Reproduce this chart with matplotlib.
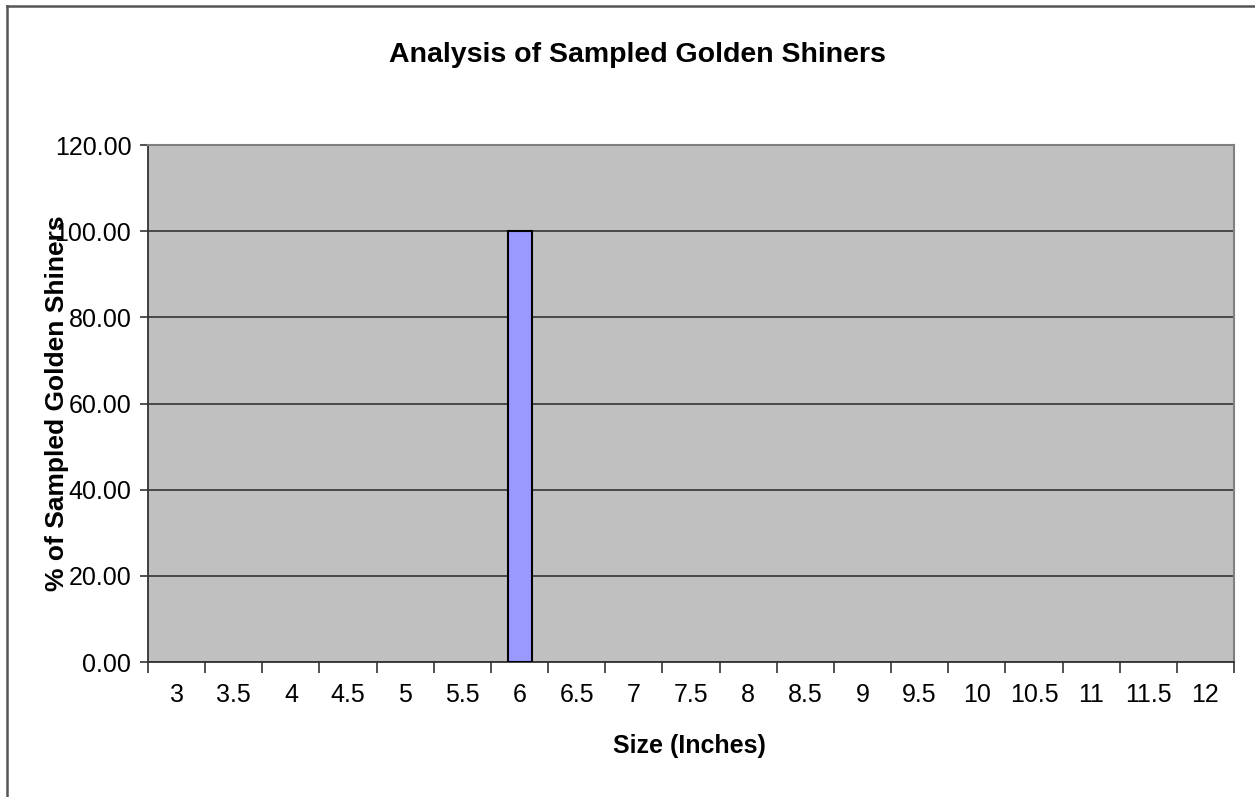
import numpy as np
import matplotlib.pyplot as plt
from matplotlib.lines import Line2D

plt.rcParams['font.family'] = ['Liberation Sans', 'DejaVu Sans']

sizes = ['3', '3.5', '4', '4.5', '5', '5.5', '6', '6.5', '7', '7.5', '8',
         '8.5', '9', '9.5', '10', '10.5', '11', '11.5', '12']
percent = [0, 0, 0, 0, 0, 0, 100.0, 0, 0, 0, 0, 0, 0, 0, 0, 0, 0, 0, 0]
yticks = [0, 20, 40, 60, 80, 100, 120]

W, H = 1255, 797
fig = plt.figure(figsize=(W / 100, H / 100), dpi=100)
fig.patch.set_facecolor('white')

# chart-area frame (left and top edges visible)
fig.add_artist(Line2D([7 / W, 7 / W], [0, 1 - 6 / H], color='#555555', lw=1.8))
fig.add_artist(Line2D([7 / W, 1], [1 - 6 / H, 1 - 6 / H], color='#555555', lw=1.8))

ax = fig.add_axes([148 / W, (H - 662) / H, 1086 / W, 517 / H])
ax.set_facecolor('#c0c0c0')

x = np.arange(len(sizes))
edges = ['black' if v > 0 else 'none' for v in percent]
ax.bar(x, percent, width=0.42, color='#9999ff', edgecolor=edges, linewidth=1.5, zorder=3)

ax.set_xlim(-0.5, len(sizes) - 0.5)
ax.set_ylim(0, 120)
ax.set_yticks(yticks)
ax.set_yticklabels(['%.2f' % v for v in yticks], fontsize=18)
ax.yaxis.grid(True, color='#333333', linewidth=1.2, zorder=1)
ax.set_axisbelow(True)

# category labels centred, ticks on the boundaries
ax.set_xticks(x)
ax.set_xticklabels(sizes, fontsize=18)
ax.tick_params(axis='x', length=0, pad=15)
ax.set_xticks(np.arange(len(sizes) + 1) - 0.5, minor=True)
ax.tick_params(axis='x', which='minor', length=8, width=1.2, color='#333333')
ax.tick_params(axis='y', length=6, width=1.2, color='#333333', pad=6)

for side in ('left', 'bottom'):
    ax.spines[side].set_color('#333333')
    ax.spines[side].set_linewidth(1.3)
for side in ('top', 'right'):
    ax.spines[side].set_color('#808080')
    ax.spines[side].set_linewidth(1.5)

fig.text(637 / W, 1 - 55 / H, 'Analysis of Sampled Golden Shiners',
         ha='center', va='center', fontsize=20.5, fontweight='bold')
fig.text(689 / W, 1 - 746 / H, 'Size (Inches)',
         ha='center', va='center', fontsize=18, fontweight='bold')
fig.text(57 / W, 1 - 403 / H, '% of Sampled Golden Shiners', rotation=90,
         ha='center', va='center', fontsize=19, fontweight='bold')

fig.savefig('out.png', dpi=100)
